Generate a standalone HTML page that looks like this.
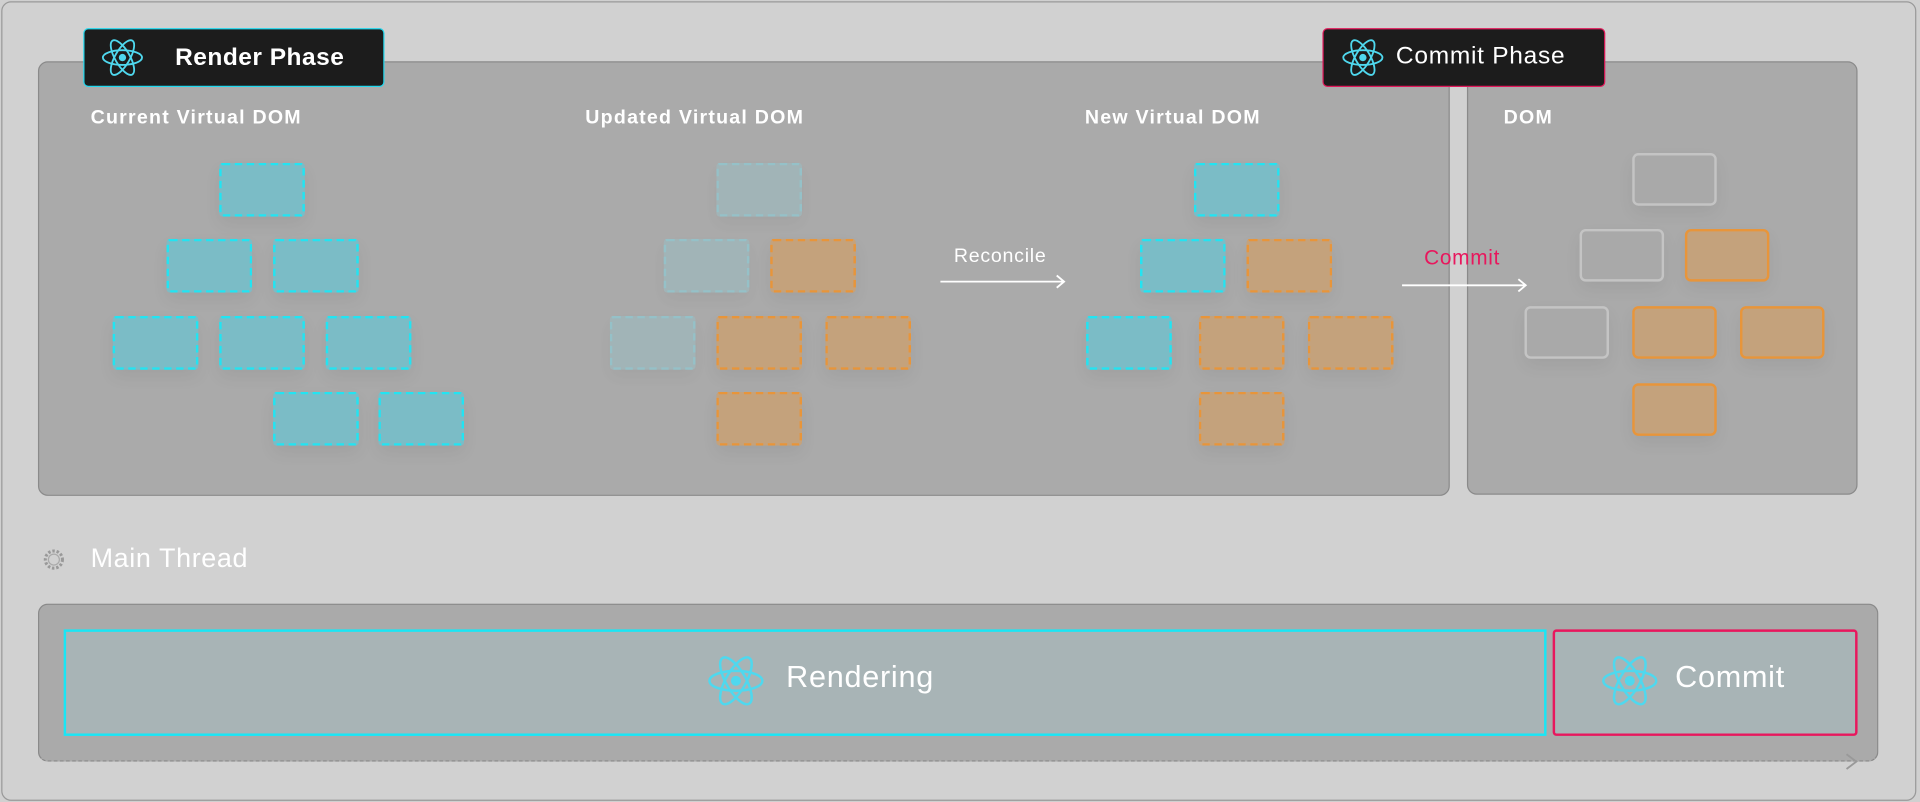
<!DOCTYPE html>
<html><head><meta charset="utf-8"><style>
html,body{margin:0;padding:0;width:1920px;height:802px;overflow:hidden;background:#d0d0d0}
#s{position:absolute;left:0;top:0;width:1568px;height:655px;transform:scale(1.22449);transform-origin:0 0;font-family:"Liberation Sans",sans-serif}
.a{position:absolute}
.panel{background:#aaa;border:1px solid #8a8a8a;border-radius:8px}
.lbl{color:#fff;font-weight:bold;font-size:16px;letter-spacing:1px}
.b{position:absolute;width:66px;height:40px;border-radius:3px;box-shadow:0 6px 14px rgba(0,0,0,.06)}
.c{background:#7bbcc6;border:2px dashed #22e4f2}
.f{background:#9fb8bc;border:2px dashed #8fc9d2;opacity:.75}
.o{background:#c4a27c;border:2px dashed #e8953a}
.g{background:#a9a9a9;border:2px solid #c4c4c4;border-radius:5px;width:65px;height:39px}
.os{background:#c4a27c;border:2px solid #e8953a;border-radius:5px;width:65px;height:39px}
.badge{position:absolute;background:#1c1c1c;border-radius:4px;color:#fff;font-size:20px}
</style></head><body><div id="s">
<div class="a" style="left:1px;top:1px;width:1562px;height:651px;border:1px solid #999;border-radius:8px;background:#d1d1d1"></div>
<div class="a panel" style="left:31px;top:50px;width:1151px;height:353px"></div>
<div class="a panel" style="left:1198px;top:50px;width:317px;height:352px"></div>

<svg width="0" height="0" style="position:absolute"><defs><g id="r"><circle r="3" fill="#4fd8ee"/><g fill="none" stroke="#4fd8ee" stroke-width="1.5"><ellipse rx="16" ry="6"/><ellipse rx="16" ry="6" transform="rotate(60)"/><ellipse rx="16" ry="6" transform="rotate(120)"/></g></g></defs></svg>

<div class="badge" style="left:68px;top:23px;width:244px;height:46px;border:1px solid #22d8ee"><svg class="a" style="left:13px;top:6px" width="36" height="34"><use href="#r" x="18" y="17"/></svg><span class="a" style="left:74px;top:12px;font-weight:bold;letter-spacing:0.4px">Render Phase</span></div>
<div class="badge" style="left:1080px;top:23px;width:229px;height:46px;border:1px solid #e0185a"><svg class="a" style="left:14px;top:6px" width="36" height="34"><use href="#r" x="18" y="17"/></svg><span class="a" style="left:59px;top:11px;letter-spacing:0.6px">Commit Phase</span></div>

<div class="a lbl" style="left:74px;top:88px">Current Virtual DOM</div>
<div class="a lbl" style="left:478px;top:88px">Updated Virtual DOM</div>
<div class="a lbl" style="left:886px;top:88px">New Virtual DOM</div>
<div class="a lbl" style="left:1228px;top:88px">DOM</div>

<div class="b c" style="left:179px;top:133px"></div>
<div class="b c" style="left:136px;top:195px"></div>
<div class="b c" style="left:223px;top:195px"></div>
<div class="b c" style="left:92px;top:258px"></div>
<div class="b c" style="left:179px;top:258px"></div>
<div class="b c" style="left:266px;top:258px"></div>
<div class="b c" style="left:223px;top:320px"></div>
<div class="b c" style="left:309px;top:320px"></div>

<div class="b f" style="left:585px;top:133px"></div>
<div class="b f" style="left:542px;top:195px"></div>
<div class="b o" style="left:629px;top:195px"></div>
<div class="b f" style="left:498px;top:258px"></div>
<div class="b o" style="left:585px;top:258px"></div>
<div class="b o" style="left:674px;top:258px"></div>
<div class="b o" style="left:585px;top:320px"></div>

<div class="b c" style="left:975px;top:133px"></div>
<div class="b c" style="left:931px;top:195px"></div>
<div class="b o" style="left:1018px;top:195px"></div>
<div class="b c" style="left:887px;top:258px"></div>
<div class="b o" style="left:979px;top:258px"></div>
<div class="b o" style="left:1068px;top:258px"></div>
<div class="b o" style="left:979px;top:320px"></div>

<div class="b g" style="left:1333px;top:125px"></div>
<div class="b g" style="left:1290px;top:187px"></div>
<div class="b os" style="left:1376px;top:187px"></div>
<div class="b g" style="left:1245px;top:250px"></div>
<div class="b os" style="left:1333px;top:250px"></div>
<div class="b os" style="left:1421px;top:250px"></div>
<div class="b os" style="left:1333px;top:313px"></div>

<div class="a" style="left:779px;top:201px;color:#fff;font-size:16px;letter-spacing:0.6px">Reconcile</div>
<svg class="a" style="left:766px;top:222px" width="110" height="16"><path d="M2 8H103M97 3L103 8L97 13" stroke="#fff" stroke-width="1.5" fill="none"/></svg>
<div class="a" style="left:1163px;top:201px;color:#e8175d;font-size:17px;letter-spacing:0.6px">Commit</div>
<svg class="a" style="left:1143px;top:225px" width="110" height="16"><path d="M2 8H103M97 3L103 8L97 13" stroke="#fff" stroke-width="1.5" fill="none"/></svg>

<svg class="a" style="left:34px;top:447px" width="20" height="20"><circle cx="10" cy="10" r="7" fill="none" stroke="#999" stroke-width="2.5" stroke-dasharray="2 1.5"/><circle cx="10" cy="10" r="4.5" fill="none" stroke="#aaa" stroke-width="1"/></svg>
<div class="a" style="left:74px;top:443px;color:#fff;font-size:22px;letter-spacing:0.5px">Main Thread</div>

<div class="a panel" style="left:31px;top:493px;width:1501px;height:127px;border-bottom:1px dashed #888"></div>
<svg class="a" style="left:1505px;top:614px" width="14" height="16"><path d="M3 2L11 8L3 14" stroke="#999" stroke-width="1.5" fill="none"/></svg>
<div class="a" style="left:52px;top:514px;width:1207px;height:83px;background:#a8b4b6;border:2px solid #19e6f5"></div>
<svg class="a" style="left:576px;top:531px" width="50" height="50"><g transform="translate(25 25) scale(1.35)"><use href="#r"/></g></svg>
<div class="a" style="left:642px;top:539px;color:#fff;font-size:25px;letter-spacing:0.6px">Rendering</div>
<div class="a" style="left:1268px;top:514px;width:245px;height:83px;background:#a8b4b6;border:2px solid #e8175d;border-radius:3px"></div>
<svg class="a" style="left:1306px;top:531px" width="50" height="50"><g transform="translate(25 25) scale(1.35)"><use href="#r"/></g></svg>
<div class="a" style="left:1368px;top:539px;color:#fff;font-size:25px;letter-spacing:0.6px">Commit</div>
</div></body></html>
